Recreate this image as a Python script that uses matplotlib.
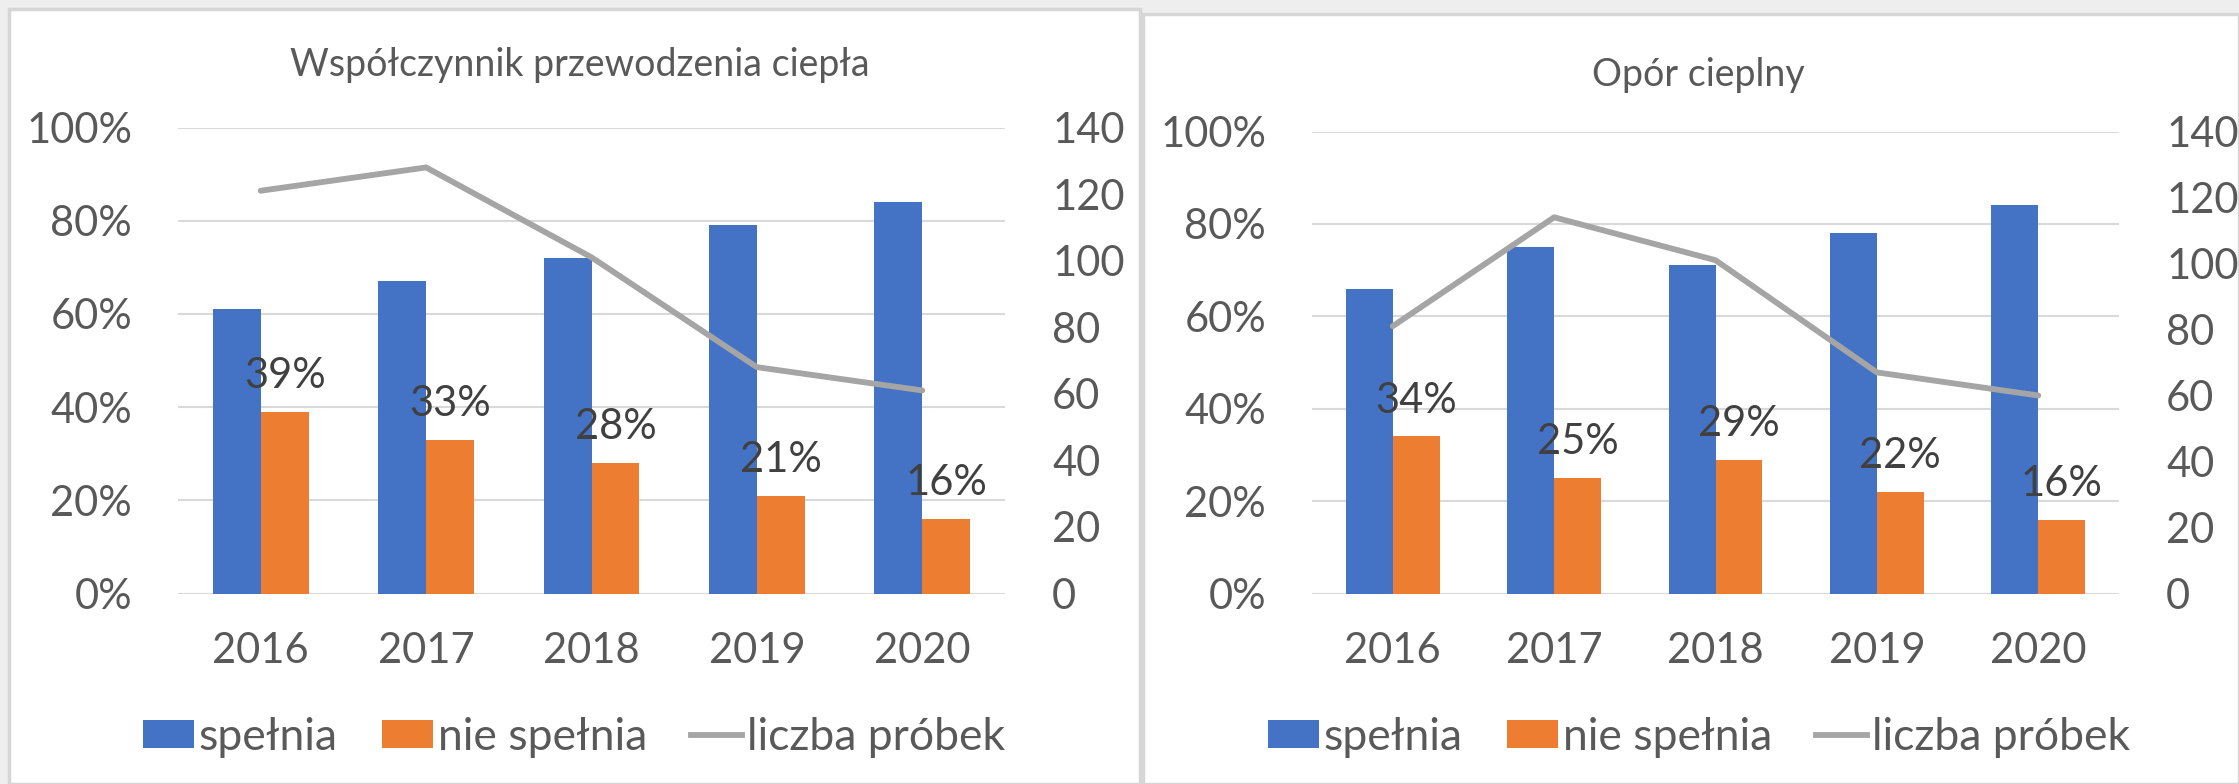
import matplotlib
matplotlib.use("Agg")
import matplotlib.pyplot as plt
import numpy as np
from matplotlib.patches import Rectangle, Patch
from matplotlib.lines import Line2D

plt.rcParams['font.family'] = ['Lato', 'DejaVu Sans']

years = ['2016', '2017', '2018', '2019', '2020']

# Współczynnik przewodzenia ciepła
k_ok = [0.61, 0.67, 0.72, 0.79, 0.84]
k_fail = [0.39, 0.33, 0.28, 0.21, 0.16]
k_count = [121, 128, 101, 68, 61]

# Opór cieplny
r_ok = [0.66, 0.75, 0.71, 0.78, 0.84]
r_fail = [0.34, 0.25, 0.29, 0.22, 0.16]
r_count = [81, 114, 101, 67, 60]

BLUE = '#4472C4'
ORANGE = '#ED7D31'
GRAY = '#A5A5A5'
TXT = '#595959'

W, H = 2239, 784
fig = plt.figure(figsize=(W / 100, H / 100), dpi=100, facecolor='#eeeeee')

# white chart panels
for x0, y0, x1 in [(9, 9, 1140), (1143, 14, 2239)]:
    fig.patches.append(Rectangle((x0 / W, 0), (x1 - x0) / W, 1 - y0 / H,
                                 transform=fig.transFigure, facecolor='white',
                                 edgecolor='#d6d6d6', linewidth=2.5, zorder=-10))


def panel(rect, title, title_xy, ok, fail, count, legend_x):
    ax = fig.add_axes(rect)
    x = np.arange(len(years))
    bw = 0.29
    ax.bar(x - bw / 2, ok, bw, color=BLUE, zorder=2)
    ax.bar(x + bw / 2, fail, bw, color=ORANGE, zorder=2)
    for xi, v in zip(x, fail):
        ax.annotate(f'{round(v * 100)}%', (xi + bw / 2, v), xytext=(0, 12),
                    textcoords='offset points', ha='center', va='bottom',
                    fontsize=30, color='#404040', zorder=5)
    ax.set_xlim(-0.5, len(years) - 0.5)
    ax.set_ylim(0, 1)
    ax.set_yticks(np.arange(0, 1.01, 0.2))
    ax.set_yticklabels([f'{int(round(t * 100))}%' for t in np.arange(0, 1.01, 0.2)])
    ax.set_xticks(x)
    ax.set_xticklabels(years)
    ax.grid(axis='y', color='#d9d9d9', linewidth=1.5, zorder=0)
    ax.set_axisbelow(True)
    for s in ax.spines.values():
        s.set_visible(False)
    ax.tick_params(length=0, labelsize=30, colors=TXT)
    ax.tick_params(axis='y', pad=33)
    ax.tick_params(axis='x', pad=28)
    ax.patch.set_alpha(0)

    ax2 = ax.twinx()
    ax2.plot(x, count, color=GRAY, linewidth=4.2, solid_capstyle='round', zorder=3)
    ax2.set_ylim(0, 140)
    ax2.set_yticks(np.arange(0, 141, 20))
    for s in ax2.spines.values():
        s.set_visible(False)
    ax2.tick_params(length=0, labelsize=30, colors=TXT, pad=34)

    fig.text(title_xy[0] / W, 1 - title_xy[1] / H, title, ha='center', va='center',
             fontsize=27, color=TXT)

    handles = [Patch(facecolor=BLUE), Patch(facecolor=ORANGE),
               Line2D([], [], color=GRAY, linewidth=4.2)]
    fig.legend(handles, ['spełnia', 'nie spełnia', 'liczba próbek'],
               loc='center left', bbox_to_anchor=(legend_x / W, 1 - 737 / H),
               ncol=3, frameon=False, fontsize=32, labelcolor=TXT,
               handlelength=1.15, handleheight=0.6, handletextpad=0.1,
               columnspacing=1.0, borderaxespad=0, borderpad=0)


panel([178 / W, 1 - 593.5 / H, 827 / W, 466 / H], 'Współczynnik przewodzenia ciepła',
      (580, 65), k_ok, k_fail, k_count, 143)
panel([1312 / W, 1 - 593.5 / H, 807 / W, 462 / H], 'Opór cieplny',
      (1698, 75), r_ok, r_fail, r_count, 1268)

fig.savefig('out.png', dpi=100, facecolor=fig.get_facecolor())
